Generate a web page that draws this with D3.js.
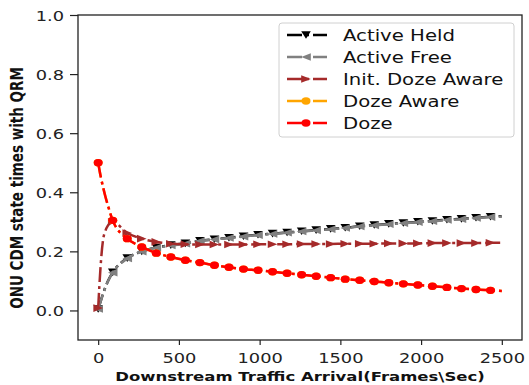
<!DOCTYPE html>
<html>
<head>
<meta charset="utf-8">
<script src="https://cdn.jsdelivr.net/npm/d3@7"></script>
<style>
  html, body { margin: 0; padding: 0; background: #fff; }
  svg { display: block; font-family: "DejaVu Sans", sans-serif; }
</style>
</head>
<body>
<div id="chart"></div>
<script>
// traffic arrival (frames/sec) sample points
const trafficX = [0, 15, 30, 45, 60, 90, 180, 270, 360, 450, 540, 630, 720, 810, 900, 990, 1080,
  1170, 1260, 1350, 1440, 1530, 1620, 1710, 1800, 1890, 1980, 2070, 2160, 2250, 2340, 2430, 2500];

const activeHeld = [0.005, 0.031, 0.056, 0.079, 0.099, 0.129, 0.177, 0.200, 0.213, 0.221, 0.227, 0.236,
  0.241, 0.246, 0.251, 0.256, 0.260, 0.264, 0.268, 0.272, 0.276, 0.280, 0.285, 0.289, 0.293, 0.296,
  0.300, 0.303, 0.307, 0.310, 0.314, 0.317, 0.319];
const activeFree = [0.005, 0.030, 0.055, 0.078, 0.098, 0.128, 0.176, 0.199, 0.212, 0.220, 0.226, 0.235,
  0.240, 0.245, 0.250, 0.255, 0.259, 0.263, 0.267, 0.271, 0.275, 0.279, 0.284, 0.288, 0.292, 0.295,
  0.299, 0.302, 0.306, 0.309, 0.313, 0.316, 0.318];
const initDozeAware = [0.008, 0.150, 0.238, 0.270, 0.287, 0.300, 0.262, 0.243, 0.232, 0.226, 0.224, 0.223,
  0.223, 0.223, 0.223, 0.224, 0.224, 0.224, 0.225, 0.225, 0.225, 0.226, 0.226, 0.226, 0.227, 0.227,
  0.227, 0.228, 0.228, 0.228, 0.228, 0.229, 0.229];
const dozeAware = [0.500, 0.455, 0.418, 0.385, 0.356, 0.305, 0.243, 0.215, 0.194, 0.181, 0.170, 0.162,
  0.153, 0.146, 0.140, 0.136, 0.131, 0.126, 0.121, 0.116, 0.111, 0.106, 0.102, 0.098, 0.094, 0.090,
  0.086, 0.082, 0.078, 0.074, 0.071, 0.068, 0.066];
const doze = [0.500, 0.455, 0.418, 0.385, 0.356, 0.305, 0.243, 0.215, 0.194, 0.181, 0.170, 0.162,
  0.153, 0.146, 0.140, 0.136, 0.131, 0.126, 0.121, 0.116, 0.111, 0.106, 0.102, 0.098, 0.094, 0.090,
  0.086, 0.082, 0.078, 0.074, 0.071, 0.068, 0.066];

const xTicks = [0, 500, 1000, 1500, 2000, 2500];
const yTicks = [0.0, 0.2, 0.4, 0.6, 0.8, 1.0];

const seriesNames = ['Active Held', 'Active Free', 'Init. Doze Aware', 'Doze Aware', 'Doze'];
const seriesValues = [activeHeld, activeFree, initDozeAware, dozeAware, doze];
const seriesColors = ['#000000', '#808080', '#a52a2a', '#ffa500', '#ff0000'];
const seriesMarkers = ['down', 'left', 'right', 'circle', 'circle'];

const width = 529, height = 385;
const plot = { left: 78, right: 522, top: 15, bottom: 340 };
const SX = 1.27; // text in the picture is stretched horizontally

const svg = d3.select('#chart').append('svg')
  .attr('width', width)
  .attr('height', height);

const x = d3.scaleLinear().domain([-125, 2625]).range([plot.left, plot.right]);
const y = d3.scaleLinear().domain([-0.1, 1.0]).range([plot.bottom, plot.top]);

// marker shapes
function markerPath(kind) {
  const a = 4.8, b = 3.8;
  if (kind === 'down') return `M${-a},${-b}L${a},${-b}L0,${b}Z`;
  if (kind === 'left') return `M${-a},0L${a},${-b}L${a},${b}Z`;
  if (kind === 'right') return `M${a},0L${-a},${-b}L${-a},${b}Z`;
  return null;
}
function drawMarker(g, kind, color, px, py) {
  if (kind === 'circle') {
    g.append('ellipse').attr('cx', px).attr('cy', py).attr('rx', 4.5).attr('ry', 3.7)
      .attr('fill', color);
  } else {
    g.append('path').attr('d', markerPath(kind))
      .attr('transform', `translate(${px},${py})`)
      .attr('fill', color);
  }
}

const dash = '15,4,3,4';
const line = d3.line().x(d => x(d.x)).y(d => y(d.v)).curve(d3.curveMonotoneX);

const plotG = svg.append('g');
plotG.append('defs').append('clipPath').attr('id', 'clip')
  .append('rect').attr('x', plot.left).attr('y', plot.top)
  .attr('width', plot.right - plot.left).attr('height', plot.bottom - plot.top);

const linesG = plotG.append('g').attr('clip-path', 'url(#clip)');
seriesValues.forEach((vals, i) => {
  const pts = trafficX.map((t, j) => ({ x: t, v: vals[j] }));
  linesG.append('path')
    .datum(pts)
    .attr('d', line)
    .attr('fill', 'none')
    .attr('stroke', seriesColors[i])
    .attr('stroke-width', 2.5)
    .attr('stroke-dasharray', dash);
  const mg = linesG.append('g');
  pts.filter(d => d.x % 90 === 0).forEach(d => {
    drawMarker(mg, seriesMarkers[i], seriesColors[i], x(d.x), y(d.v));
  });
});

// frame
svg.append('rect')
  .attr('x', plot.left).attr('y', plot.top)
  .attr('width', plot.right - plot.left).attr('height', plot.bottom - plot.top)
  .attr('fill', 'none').attr('stroke', '#222').attr('stroke-width', 1.3);

// x axis
const xAxisG = svg.append('g')
  .attr('transform', `translate(0,${plot.bottom})`)
  .call(d3.axisBottom(x).tickValues(xTicks).tickSize(5).tickFormat(d3.format('d')));
xAxisG.select('.domain').remove();
xAxisG.selectAll('line').attr('stroke', '#222').attr('stroke-width', 1.2);
xAxisG.selectAll('text')
  .attr('y', 0).attr('dy', null)
  .attr('transform', `translate(0,23) scale(${SX},1)`)
  .attr('font-size', 14).attr('fill', '#222')
  .attr('font-family', 'DejaVu Sans');

// y axis
const yAxisG = svg.append('g')
  .attr('transform', `translate(${plot.left},0)`)
  .call(d3.axisLeft(y).tickValues(yTicks).tickSize(8).tickFormat(d3.format('.1f')));
yAxisG.select('.domain').remove();
yAxisG.selectAll('line').attr('stroke', '#222').attr('stroke-width', 1.2);
yAxisG.selectAll('text')
  .attr('x', 0).attr('dy', '0.36em')
  .attr('transform', `translate(-14,0) scale(${SX},1)`)
  .attr('font-size', 14).attr('fill', '#222')
  .attr('font-family', 'DejaVu Sans');

// axis labels
svg.append('text')
  .attr('transform', `translate(${(plot.left + plot.right) / 2},381) scale(${SX},1)`)
  .attr('text-anchor', 'middle')
  .attr('font-size', 13)
  .attr('font-weight', 'bold')
  .attr('fill', '#111')
  .text('Downstream Traffic Arrival(Frames\\Sec)');

svg.append('text')
  .attr('transform', `translate(23,188) scale(${SX},1) rotate(-90)`)
  .attr('text-anchor', 'middle')
  .attr('font-size', 13.5)
  .attr('font-weight', 'bold')
  .attr('fill', '#111')
  .text('ONU CDM state times with QRM');

// legend
const legend = svg.append('g');
legend.append('rect')
  .attr('x', 279).attr('y', 23).attr('width', 235).attr('height', 114)
  .attr('rx', 3)
  .attr('fill', 'white').attr('fill-opacity', 0.85)
  .attr('stroke', '#d0d0d0').attr('stroke-width', 1);

seriesNames.forEach((name, i) => {
  const cy = 35 + i * 22;
  legend.append('line')
    .attr('x1', 287).attr('x2', 327).attr('y1', cy).attr('y2', cy)
    .attr('stroke', seriesColors[i]).attr('stroke-width', 2.5)
    .attr('stroke-dasharray', dash);
  drawMarker(legend, seriesMarkers[i], seriesColors[i], 306, cy);
  legend.append('text')
    .attr('transform', `translate(343,${cy + 5.5}) scale(${SX},1)`)
    .attr('font-size', 15.5)
    .attr('fill', '#111')
    .text(name);
});
</script>
</body>
</html>
